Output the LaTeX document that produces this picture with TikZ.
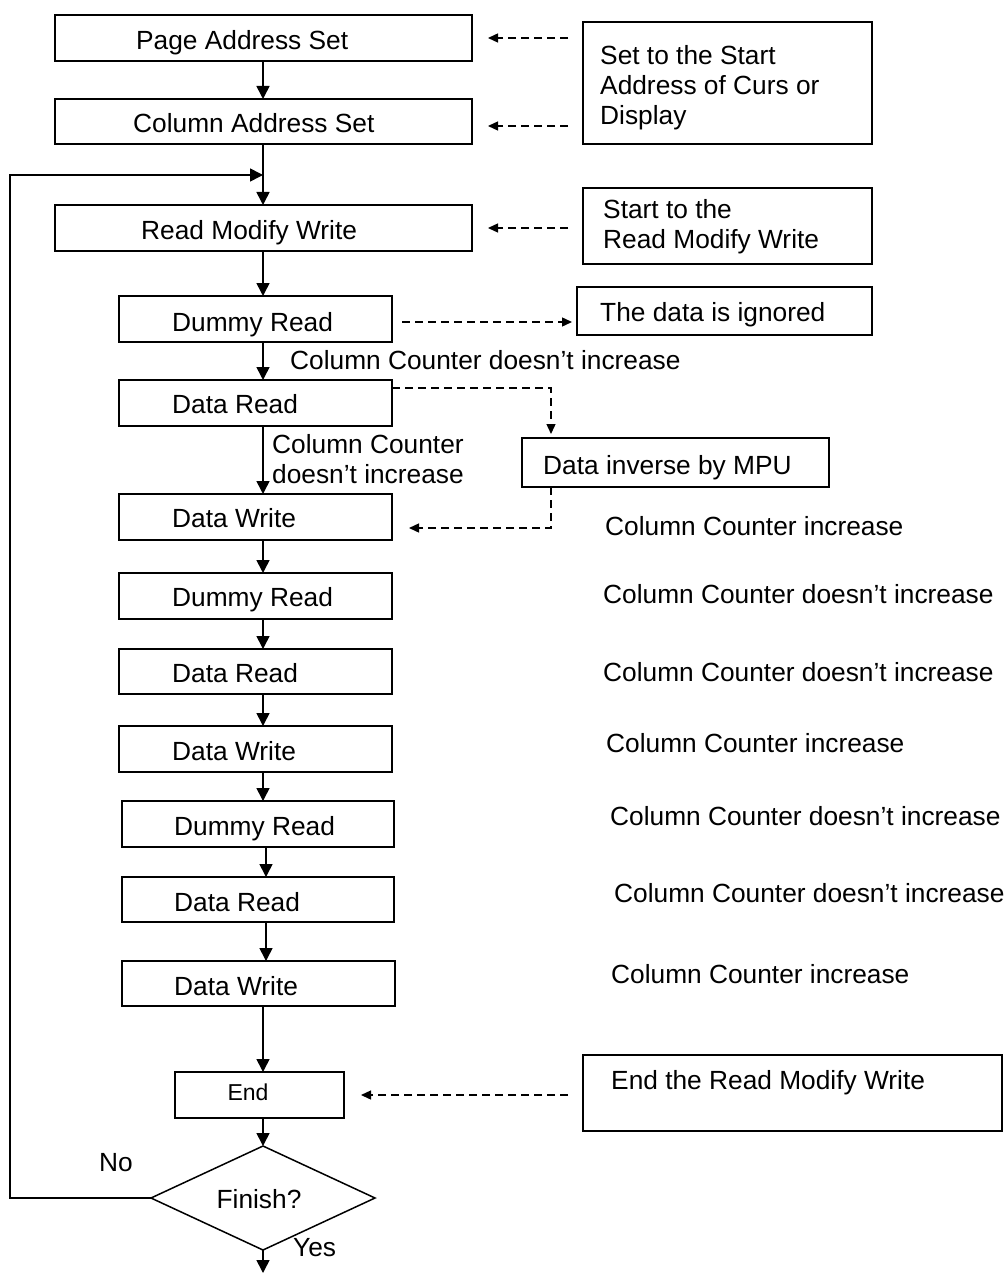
\documentclass[tikz,border=0pt]{standalone}
\usepackage{fontspec}
\setmainfont{Liberation Sans}
\usetikzlibrary{shapes.geometric, arrows.meta}
\begin{document}
\begin{tikzpicture}[x=1pt,y=-1pt,
  box/.style={draw, line width=1.7pt, inner sep=0pt, outer sep=0pt},
  txt/.style={inner sep=0pt, anchor=north west, font=\fontsize{26.3}{30}\selectfont, align=left},
  ctxt/.style={inner sep=0pt, font=\fontsize{26.3}{30}\selectfont},
  arr/.style={line width=1.6pt, -{Triangle[length=13pt,width=13pt]}},
  darr/.style={line width=1.4pt, dash pattern=on 8pt off 5pt, -{Triangle[length=10pt,width=9pt]}},
]
\useasboundingbox (0,0) rectangle (1006,1273);

% left column boxes
\node[box, minimum width=417pt, minimum height=46pt] (p1) at (263.5,38) {};
\node[box, minimum width=417pt, minimum height=45pt] (p2) at (263.5,121.5) {};
\node[box, minimum width=417pt, minimum height=46pt] (p3) at (263.5,228) {};
\node[box, minimum width=273pt, minimum height=46pt] (d1) at (255.5,319) {};
\node[box, minimum width=273pt, minimum height=46pt] (r1) at (255.5,403) {};
\node[box, minimum width=273pt, minimum height=46pt] (w1) at (255.5,517) {};
\node[box, minimum width=273pt, minimum height=46pt] (d2) at (255.5,596) {};
\node[box, minimum width=273pt, minimum height=45pt] (r2) at (255.5,671.5) {};
\node[box, minimum width=273pt, minimum height=46pt] (w2) at (255.5,749) {};
\node[box, minimum width=272pt, minimum height=46pt] (d3) at (258,824) {};
\node[box, minimum width=272pt, minimum height=45pt] (r3) at (258,899.5) {};
\node[box, minimum width=273pt, minimum height=45pt] (w3) at (258.5,983.5) {};
\node[box, minimum width=169pt, minimum height=46pt] (end) at (259.5,1095) {};
\node[box, diamond, line width=1.5pt, minimum width=224pt, minimum height=104pt] (fin) at (263,1198) {};

% right column boxes
\node[box, minimum width=289pt, minimum height=122pt] (s1) at (727.5,83) {};
\node[box, minimum width=289pt, minimum height=76pt] (s2) at (727.5,226) {};
\node[box, minimum width=295pt, minimum height=48pt] (ign) at (724.5,311) {};
\node[box, minimum width=307pt, minimum height=49pt] (inv) at (675.5,462.5) {};
\node[box, minimum width=419pt, minimum height=76pt] (erm) at (792.5,1093) {};

% texts in boxes
\node[txt] (tp1) at (136,30.6) {Page Address Set};
\node[txt] (tp2) at (133,113.3) {Column Address Set};
\node[txt] (tp3) at (141,220.6) {Read Modify Write};
\node[txt] (td1) at (172,312.3) {Dummy Read};
\node[txt] (tr1) at (172,394.6) {Data Read};
\node[txt] (tw1) at (172,508.6) {Data Write};
\node[txt] (td2) at (172,587.6) {Dummy Read};
\node[txt] (tr2) at (172,663.6) {Data Read};
\node[txt] (tw2) at (172,741.6) {Data Write};
\node[txt] (td3) at (174,816.6) {Dummy Read};
\node[txt] (tr3) at (174,892.6) {Data Read};
\node[txt] (tw3) at (174,976.6) {Data Write};
\node[inner sep=0pt, font=\fontsize{23}{27}\selectfont] (tend) at (248,1092) {End};
\node[ctxt] (tfin) at (259,1199) {Finish?};
\node[ctxt] (tno) at (116,1163) {No};
\node[ctxt, anchor=west] (tyes) at (293,1248) {Yes};

\node[txt] (ts1) at (600,45.6) {Set to the Start\\Address of Curs or\\Display};
\node[txt] (ts2) at (603,199.6) {Start to the\\Read Modify Write};
\node[txt] (tign) at (600,302.6) {The data is ignored};
\node[txt] (tinv) at (543,455.6) {Data inverse by MPU};
\node[txt] (term) at (611,1070.6) {End the Read Modify Write};

% counter labels
\node[txt] (c1) at (290,350.6) {Column Counter doesn’t increase};
\node[txt] (c2) at (272,434.6) {Column Counter\\doesn’t increase};
\node[txt] (c3) at (605,516.6) {Column Counter increase};
\node[txt] (c4) at (603,584.6) {Column Counter doesn’t increase};
\node[txt] (c5) at (603,662.6) {Column Counter doesn’t increase};
\node[txt] (c6) at (606,733.6) {Column Counter increase};
\node[txt] (c7) at (610,806.6) {Column Counter doesn’t increase};
\node[txt] (c8) at (614,883.6) {Column Counter doesn’t increase};
\node[txt] (c9) at (611,964.6) {Column Counter increase};

% main flow arrows
\draw[arr] ([xshift=-0.5pt]p1.south) -- ([xshift=-0.5pt]p2.north);
\draw[arr] ([xshift=-0.5pt]p2.south) -- ([xshift=-0.5pt]p3.north);
\draw[arr] ([xshift=-0.5pt]p3.south) -- ([xshift=7.5pt]d1.north);
\draw[arr] ([xshift=7.5pt]d1.south) -- ([xshift=7.5pt]r1.north);
\draw[arr] ([xshift=7.5pt]r1.south) -- ([xshift=7.5pt]w1.north);
\draw[arr] ([xshift=7.5pt]w1.south) -- ([xshift=7.5pt]d2.north);
\draw[arr] ([xshift=7.5pt]d2.south) -- ([xshift=7.5pt]r2.north);
\draw[arr] ([xshift=7.5pt]r2.south) -- ([xshift=7.5pt]w2.north);
\draw[arr] ([xshift=7.5pt]w2.south) -- ([xshift=5pt]d3.north);
\draw[arr] ([xshift=8pt]d3.south) -- ([xshift=8pt]r3.north);
\draw[arr] ([xshift=8pt]r3.south) -- ([xshift=7.5pt]w3.north);
\draw[arr] ([xshift=4.5pt]w3.south) -- ([xshift=3.5pt]end.north);
\draw[arr] ([xshift=3.5pt]end.south) -- (fin.north);

% loop back and exit
\coordinate (cl) at (10,175);
\coordinate (lp) at (263,175);
\draw[arr] (fin.west) -| (cl) -- (lp);
\coordinate (exitpt) at (263,1273);
\draw[arr] (fin.south) -- (exitpt);

% dashed arrows
\draw[darr] ([xshift=-15pt]s1.west |- p1.east) -- ([xshift=16pt]p1.east);
\draw[darr] ([xshift=-15pt]s1.west |- 0,126) -- ([xshift=16pt]p2.east |- 0,126);
\draw[darr] ([xshift=-15pt]s2.west |- p3.east) -- ([xshift=16pt]p3.east);
\draw[darr] ([xshift=10pt]d1.east |- 0,322) -- ([xshift=-5pt]ign.west |- 0,322);
\coordinate (invtop) at (551,434);
\coordinate (invbot) at (551,487);
\draw[darr] (r1.east |- 0,388) -| (invtop);
\draw[darr] (invbot) |- ([xshift=17pt]w1.east |- 0,528);
\draw[darr] ([xshift=-15pt]erm.west |- 0,1095) -- ([xshift=17pt]end.east |- 0,1095);
\end{tikzpicture}
\end{document}
